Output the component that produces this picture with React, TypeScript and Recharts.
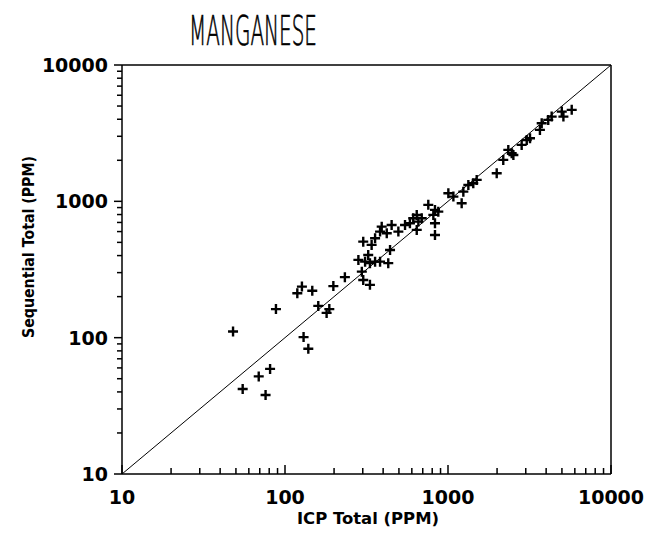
import React from "react";
import { ScatterChart, Scatter, XAxis, YAxis, ReferenceLine } from "recharts";

// ICP total vs sequential total, ppm
const icpTotal = [
  48, 55, 69, 76, 81, 88, 119, 127, 147, 130, 139, 160, 180, 187, 198, 233, 302, 332, 296, 282,
  310, 332, 357, 383, 430, 324, 441, 302, 340, 357, 383, 392, 421, 451, 496, 545, 584, 612, 643,
  658, 643, 690, 757, 832, 813, 832, 832, 872, 1005, 1079, 1213, 1242, 1333, 1429, 1500, 1990,
  2183, 2459, 2518, 2344, 2831, 3041, 3185, 3664, 3757, 4121, 4325, 4989, 5105, 5741,
];
const seqTotal = [
  111, 42, 52, 38, 59, 162, 212, 237, 221, 101, 83, 171, 152, 162, 239, 278, 265, 244, 305, 372,
  361, 352, 361, 361, 352, 404, 440, 506, 479, 536, 600, 652, 583, 671, 600, 671, 691, 752, 795,
  710, 617, 752, 942, 865, 795, 691, 567, 840, 1146, 1083, 968, 1178, 1318, 1358, 1436, 1607,
  2014, 2254, 2188, 2384, 2594, 2818, 2904, 3342, 3741, 3955, 4183, 4550, 4183, 4688,
];

const majorTicks = [10, 100, 1000, 10000];
const allTicks = [
  10, 20, 30, 40, 50, 60, 70, 80, 90, 100, 200, 300, 400, 500, 600, 700, 800, 900, 1000, 2000,
  3000, 4000, 5000, 6000, 7000, 8000, 9000, 10000,
];

const data = icpTotal.map((x, i) => ({ x, y: seqTotal[i] }));

const FONT = "'DejaVu Sans', sans-serif";

const XTick = (props: any) => {
  const { x, y, payload } = props;
  const major = majorTicks.includes(payload.value);
  return (
    <g>
      <line x1={x} x2={x} y1={y} y2={y - (major ? 9 : 6)} stroke="#000" strokeWidth={1.5} />
      {major && (
        <text x={x} y={y + 30} textAnchor="middle" fontFamily={FONT} fontWeight="bold" fontSize={19} fill="#000">
          {payload.value}
        </text>
      )}
    </g>
  );
};

const YTick = (props: any) => {
  const { x, y, payload } = props;
  const major = majorTicks.includes(payload.value);
  return (
    <g>
      <line x1={x} x2={x - (major ? 8 : 5)} y1={y} y2={y} stroke="#000" strokeWidth={1.5} />
      {major && (
        <text x={x - 14} y={y + 7} textAnchor="end" fontFamily={FONT} fontWeight="bold" fontSize={19} fill="#000">
          {payload.value}
        </text>
      )}
    </g>
  );
};

const Cross = (props: any) => {
  const { cx, cy } = props;
  return (
    <path
      d={`M${cx - 5},${cy}H${cx + 5}M${cx},${cy - 5}V${cy + 5}`}
      stroke="#000"
      strokeWidth={2.4}
      fill="none"
    />
  );
};

export default function App() {
  return (
    <div style={{ position: "relative", width: 648, height: 521, background: "#fff" }}>
      <svg width={648} height={521} style={{ position: "absolute", left: 0, top: 0 }}>
        <text
          x={245}
          y={37}
          textAnchor="middle"
          fontFamily={FONT}
          fontWeight={200}
          fontSize={40}
          textLength={128}
          lengthAdjust="spacingAndGlyphs"
          fill="#000"
          stroke="#000"
          strokeWidth={0.7}
        >
          MANGANESE
        </text>
        <text
          x={360}
          y={516}
          textAnchor="middle"
          fontFamily={FONT}
          fontWeight="bold"
          fontSize={16}
          textLength={142}
          lengthAdjust="spacingAndGlyphs"
          fill="#000"
        >
          ICP Total (PPM)
        </text>
        <text
          transform="translate(26,239) rotate(-90)"
          textAnchor="middle"
          fontFamily={FONT}
          fontWeight="bold"
          fontSize={16}
          textLength={182}
          lengthAdjust="spacingAndGlyphs"
          fill="#000"
        >
          Sequential Total (PPM)
        </text>
      </svg>
      <div style={{ position: "absolute", left: 0, top: 0 }}>
        <ScatterChart width={648} height={521} margin={{ top: 57, right: 45, bottom: 0, left: 0 }}>
          <XAxis
            type="number"
            dataKey="x"
            scale="log"
            domain={[10, 10000]}
            allowDataOverflow
            ticks={allTicks}
            interval={0}
            tickSize={0}
            tickMargin={0}
            tickLine={false}
            tick={<XTick />}
            axisLine={{ stroke: "#000", strokeWidth: 1.5 }}
            height={55}
          />
          <YAxis
            type="number"
            dataKey="y"
            scale="log"
            domain={[10, 10000]}
            allowDataOverflow
            ticks={allTicks}
            interval={0}
            tickSize={0}
            tickMargin={0}
            tickLine={false}
            tick={<YTick />}
            axisLine={{ stroke: "#000", strokeWidth: 1.5 }}
            width={114}
          />
          <ReferenceLine x={10000} stroke="#000" strokeWidth={1.5} />
          <ReferenceLine y={10000} stroke="#000" strokeWidth={1.5} />
          <ReferenceLine
            segment={[
              { x: 10, y: 10 },
              { x: 10000, y: 10000 },
            ]}
            stroke="#000"
            strokeWidth={1}
          />
          <Scatter data={data} shape={<Cross />} isAnimationActive={false} />
        </ScatterChart>
      </div>
    </div>
  );
}
